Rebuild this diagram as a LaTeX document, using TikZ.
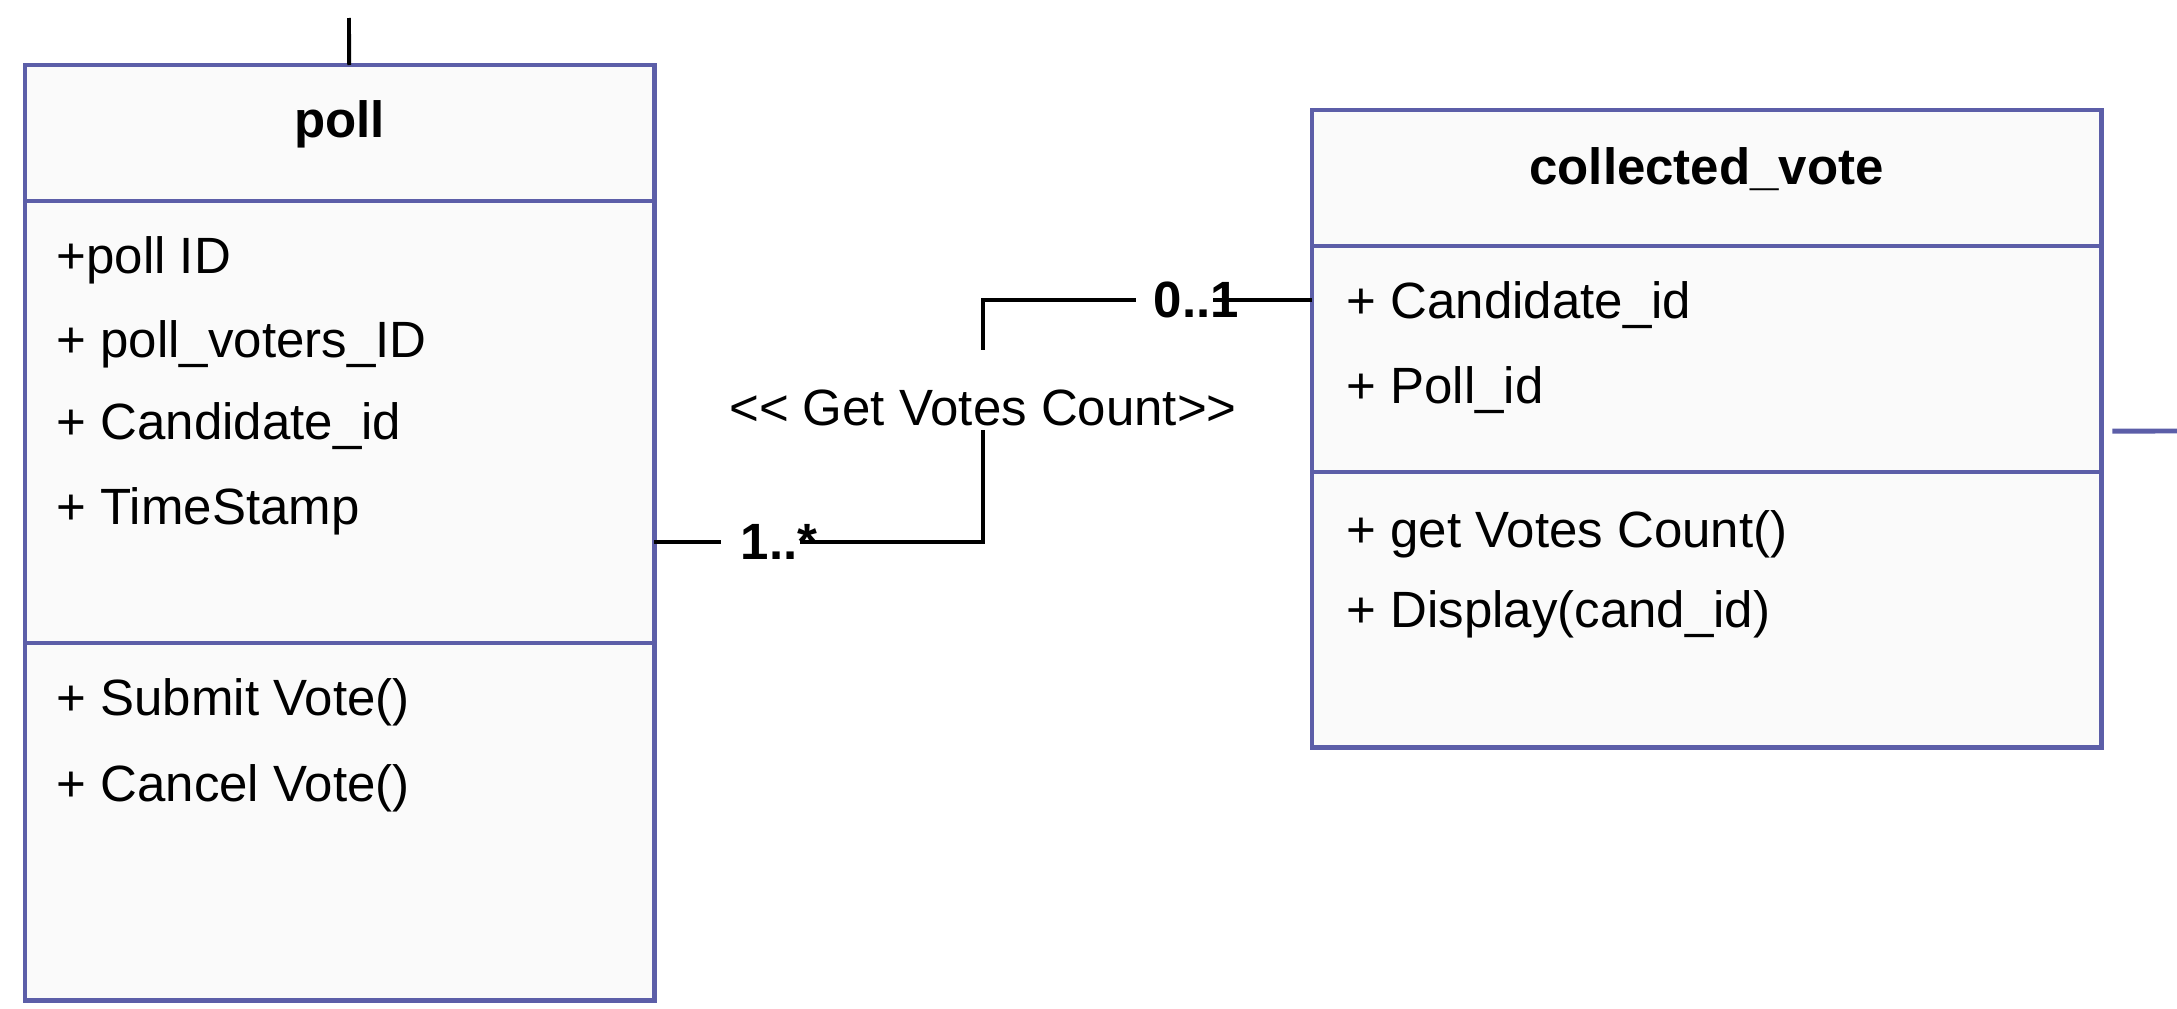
\documentclass[tikz,border=0pt]{standalone}
\usepackage{fontspec}
\setmainfont{Liberation Sans}
\usetikzlibrary{positioning}
\definecolor{umlblue}{RGB}{92,94,168}
\definecolor{umlfill}{RGB}{250,250,250}
\tikzstyle{compart}=[draw=umlblue, line width=1.4pt, fill=umlfill, inner sep=0pt, outer sep=0pt, anchor=north west]
\tikzstyle{umltitle}=[font=\bfseries, inner sep=0pt, anchor=base]
\tikzstyle{umlitem}=[inner sep=0pt, anchor=base west]
\tikzstyle{mult}=[font=\bfseries, fill=white, inner xsep=0.03cm, inner ysep=0.08cm, anchor=west]
\tikzstyle{assoc}=[draw, line width=1.1pt]

\begin{document}
\begin{tikzpicture}[x=0.01cm, y=-0.01cm]
\fontsize{14.5}{17}\selectfont
\useasboundingbox (0,0) rectangle (2177,1009);

% poll
\node[compart, minimum width=6.29cm, minimum height=1.36cm] at (25,65) (pollhead) {};
\node[compart, minimum width=6.29cm, minimum height=4.42cm] at (25,201) (pollattr) {};
\node[compart, minimum width=6.29cm, minimum height=3.57cm] at (25,643) (pollops) {};
\node[umltitle] at (339.5,137) (polltitle) {poll};
\node[umlitem] at (56,273) (pa1) {+poll ID};
\node[umlitem] at (56,357) (pa2) {+ poll\_voters\_ID};
\node[umlitem] at (56,439) (pa3) {+ Candidate\_id};
\node[umlitem] at (56,524) (pa4) {+ TimeStamp};
\node[umlitem] at (56,715) (po1) {+ Submit Vote()};
\node[umlitem] at (56,801) (po2) {+ Cancel Vote()};

% collected_vote
\node[compart, minimum width=7.89cm, minimum height=1.36cm] at (1312,110) (cvhead) {};
\node[compart, minimum width=7.89cm, minimum height=2.26cm] at (1312,246) (cvattr) {};
\node[compart, minimum width=7.89cm, minimum height=2.75cm] at (1312,472) (cvops) {};
\node[umltitle] at (1706.5,184) (cvtitle) {collected\_vote};
\node[umlitem] at (1346,318) (ca1) {+ Candidate\_id};
\node[umlitem] at (1346,403) (ca2) {+ Poll\_id};
\node[umlitem] at (1346,547) (co1) {+ get Votes Count()};
\node[umlitem] at (1346,627) (co2) {+ Display(cand\_id)};

% association
\coordinate (bend) at (983,421);
\draw[assoc] ([yshift=-1.2cm]pollattr.east) -| (bend) |- ([yshift=0.59cm]cvattr.west);
\node[fill=white, inner xsep=2pt, inner ysep=0.05cm, text height=0.7cm, text depth=0pt, anchor=base] at (983,425) (assoclabel) {<\kern0pt< Get Votes Count>\kern0pt>};
\node[mult] at (720,542) (multpoll) {\kern0.17cm 1..\rlap{*}};
\node[mult] at (1135,300) (multcv) {\kern0.15cm 0..\rlap{1}};

% lines leaving the picture
\coordinate (pollup) at (349,18);
\draw[assoc] ([xshift=0.095cm]pollhead.north) -- (pollup);
\coordinate (cvout) at (2177,431);
\draw[draw=umlblue, line width=1.4pt] ([xshift=0.11cm, yshift=-0.72cm]cvattr.east) -- (cvout);
\end{tikzpicture}
\end{document}
